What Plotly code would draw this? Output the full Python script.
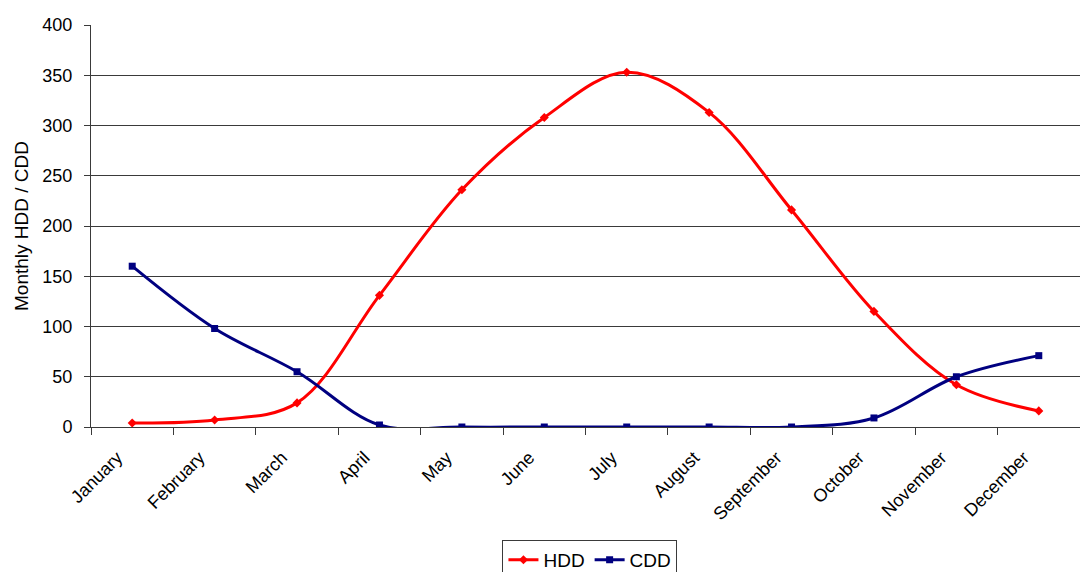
import plotly.graph_objects as go

months = ["January", "February", "March", "April", "May", "June",
          "July", "August", "September", "October", "November", "December"]
hdd = [4, 7, 24, 131, 236, 308, 353, 313, 216, 115, 42, 16]
cdd = [160, 98, 55, 2, 0, 0, 0, 0, 0, 9, 50, 71]

font_family = "Liberation Sans, Arial, sans-serif"
axis_color = "#3a3a3a"

fig = go.Figure()
fig.add_trace(go.Scatter(
    x=months, y=hdd, name="HDD", mode="lines+markers",
    line=dict(color="#ff0000", width=3, shape="spline", smoothing=1),
    marker=dict(symbol="diamond", size=7, color="#ff0000"),
))
fig.add_trace(go.Scatter(
    x=months, y=cdd, name="CDD", mode="lines+markers",
    line=dict(color="#000080", width=3, shape="spline", smoothing=1),
    marker=dict(symbol="square", size=7, color="#000080"),
))

fig.update_layout(
    width=1080, height=572,
    margin=dict(l=91, r=0, t=25, b=145, autoexpand=False),
    paper_bgcolor="white", plot_bgcolor="white",
    font=dict(family=font_family, size=17, color="black"),
    showlegend=True,
    legend=dict(
        orientation="h", x=0.5045, xanchor="center", y=-0.281, yanchor="top",
        bordercolor=axis_color, borderwidth=1, font=dict(size=19),
        itemwidth=30, tracegroupgap=0,
    ),
    xaxis=dict(
        type="category", range=[-0.5, 11.5], tickangle=-45,
        tickson="boundaries", ticks="outside", ticklen=7,
        tickcolor=axis_color, showline=True, linecolor=axis_color,
        linewidth=1, showgrid=False, tickfont=dict(size=18),
        ticklabelstandoff=12, ticklabelshift=-15, automargin=False,
    ),
    yaxis=dict(
        range=[0, 400], dtick=50, ticks="outside", ticklen=6,
        tickcolor=axis_color, showline=True, linecolor=axis_color,
        linewidth=1, showgrid=True, gridcolor=axis_color, gridwidth=1,
        zeroline=False, tickfont=dict(size=18), ticklabelstandoff=8,
        automargin=False,
        title=dict(text="Monthly HDD / CDD", font=dict(size=19), standoff=8),
    ),
)

fig.write_html("out.html")
